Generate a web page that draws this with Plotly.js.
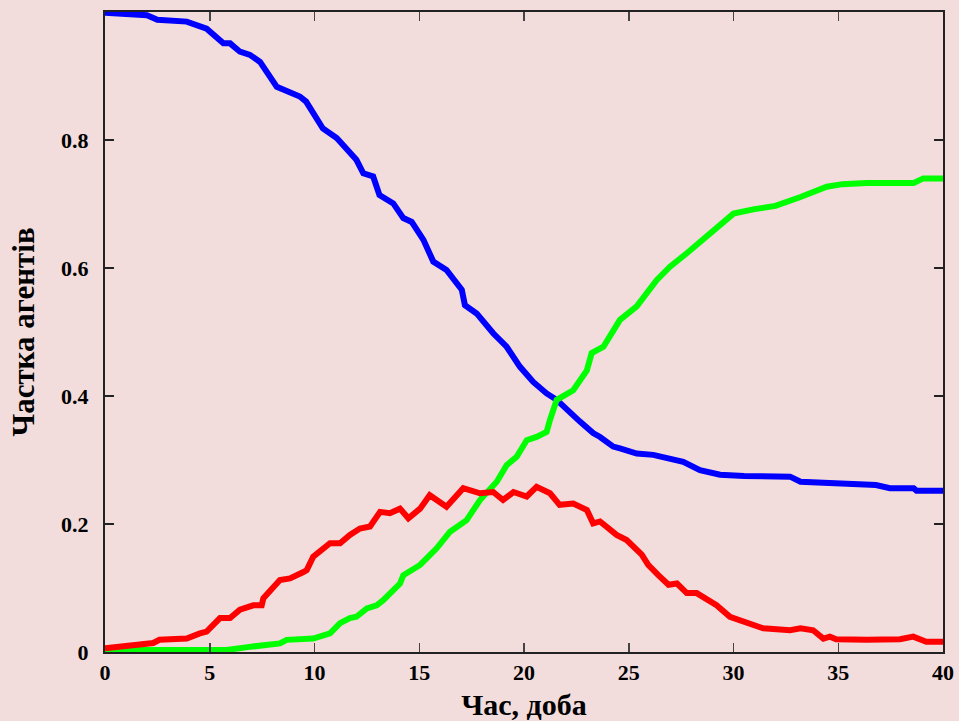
<!DOCTYPE html>
<html><head><meta charset="utf-8">
<script src="https://cdn.plot.ly/plotly-3.0.1.min.js"></script>
<style>body{margin:0;background:#f2dcdc}</style>
</head><body>
<div id="chart" style="width:959px;height:721px"></div>
<script>
const blueX = [0,2,2.5,3.9,4.85,5.65,5.97,6.44,6.92,7.4,8.2,9.3,9.6,10.4,11.06,12.0,12.33,12.8,13.1,13.76,14.24,14.64,15.2,15.67,16.3,17.03,17.18,17.74,18.53,19.17,19.8,20.44,21.08,21.56,22.67,23.3,23.63,24.26,24.58,25.38,26.17,26.8,27.6,28.4,29.36,30.5,32.7,33.2,34.45,36.8,37.47,38.6,38.74,40];
const blueY = [0.999,0.995,0.988,0.985,0.974,0.951,0.951,0.938,0.933,0.922,0.883,0.868,0.86,0.818,0.803,0.769,0.748,0.743,0.714,0.701,0.678,0.672,0.644,0.61,0.597,0.566,0.542,0.529,0.498,0.477,0.446,0.422,0.404,0.394,0.36,0.342,0.336,0.321,0.318,0.31,0.308,0.303,0.297,0.284,0.277,0.275,0.274,0.266,0.264,0.261,0.256,0.256,0.252,0.252];

const redX = [0,1.35,2.3,2.6,3.9,4.53,4.85,5.49,5.97,6.44,7.08,7.48,7.56,8.35,8.83,9.47,9.63,9.94,10.74,11.22,11.69,12.17,12.65,13.13,13.6,14.08,14.48,15.04,15.5,16.3,17.1,17.9,18.53,19.0,19.5,20.13,20.6,21.24,21.7,22.35,23.0,23.3,23.63,24.42,24.9,25.62,25.93,26.41,26.9,27.3,27.77,28.24,28.72,29.19,29.83,30.63,31.42,32.7,33.2,33.8,34.29,34.6,34.9,36.36,37.95,38.58,39.2,40];
const redY = [0.006,0.011,0.014,0.019,0.021,0.029,0.032,0.053,0.053,0.066,0.073,0.073,0.084,0.1125,0.115,0.125,0.128,0.149,0.17,0.17,0.183,0.193,0.196,0.219,0.217,0.224,0.209,0.224,0.245,0.227,0.256,0.248,0.25,0.2375,0.25,0.243,0.258,0.248,0.23,0.232,0.222,0.201,0.204,0.183,0.175,0.152,0.136,0.12,0.105,0.107,0.092,0.092,0.081,0.073,0.055,0.047,0.037,0.034,0.037,0.034,0.021,0.024,0.02,0.019,0.02,0.024,0.016,0.016];

const greenX = [0,5.8,6.9,8.35,8.67,9.94,10.74,11.22,11.69,12.0,12.5,12.97,13.28,14.08,14.24,15.04,15.83,16.47,17.26,17.9,18.7,19.17,19.65,20.13,20.6,21.08,21.24,21.56,22.35,23.0,23.23,23.79,24.58,25.38,26.33,26.97,27.77,28.4,29.0,30.0,31.0,32.0,33.2,33.8,34.45,35.2,36.36,38.6,39.06,40];
const greenY = [0.003,0.003,0.008,0.0135,0.019,0.021,0.029,0.045,0.053,0.055,0.068,0.073,0.081,0.107,0.12,0.136,0.162,0.188,0.206,0.2375,0.266,0.292,0.305,0.331,0.336,0.344,0.3625,0.394,0.409,0.44,0.467,0.477,0.519,0.54,0.581,0.602,0.623,0.641,0.658,0.685,0.692,0.697,0.711,0.719,0.727,0.731,0.733,0.733,0.74,0.74];

const xTicks = [0,5,10,15,20,25,30,35,40];
const yTicks = [0,0.2,0.4,0.6,0.8];
const yTickText = ['0','0.2','0.4','0.6','0.8'];

const lw = 6;
const traces = [
  {x: blueX, y: blueY, mode:'lines', line:{color:'#0000ff', width:lw}},
  {x: greenX, y: greenY, mode:'lines', line:{color:'#00ff00', width:lw}},
  {x: redX, y: redY, mode:'lines', line:{color:'#ff0000', width:lw}}
];
const fam = '"Liberation Serif", "Times New Roman", serif';
const layout = {
  width:959, height:721,
  paper_bgcolor:'#f2dcdc', plot_bgcolor:'#f2dcdc',
  margin:{l:105, r:16, t:12, b:69},
  showlegend:false,
  font:{family:fam, color:'#000'},
  xaxis:{
    range:[0,40], tickvals:xTicks, ticks:'inside', ticklen:9, tickwidth:1.5, tickcolor:'#444',
    showline:true, linecolor:'#222', linewidth:2, mirror:'ticks', showgrid:false, zeroline:false,
    ticklabelstandoff:0,
    tickfont:{family:fam, size:22, color:'#000', weight:'bold'},
    title:{text:'<b>Час, доба</b>', font:{family:fam, size:30, color:'#000'}, standoff:18}
  },
  yaxis:{
    range:[0,1], tickvals:yTicks, ticktext:yTickText, ticks:'inside', ticklen:9, tickwidth:1.5, tickcolor:'#222',
    showline:true, linecolor:'#222', linewidth:2, mirror:'ticks', showgrid:false, zeroline:false,
    ticklabelstandoff:10,
    tickfont:{family:fam, size:22, color:'#000', weight:'bold'},
    title:{text:'<b>Частка агентів</b>', font:{family:fam, size:31, color:'#000'}, standoff:17}
  }
};
Plotly.newPlot('chart', traces, layout, {displayModeBar:false, staticPlot:true});
</script>
</body></html>
